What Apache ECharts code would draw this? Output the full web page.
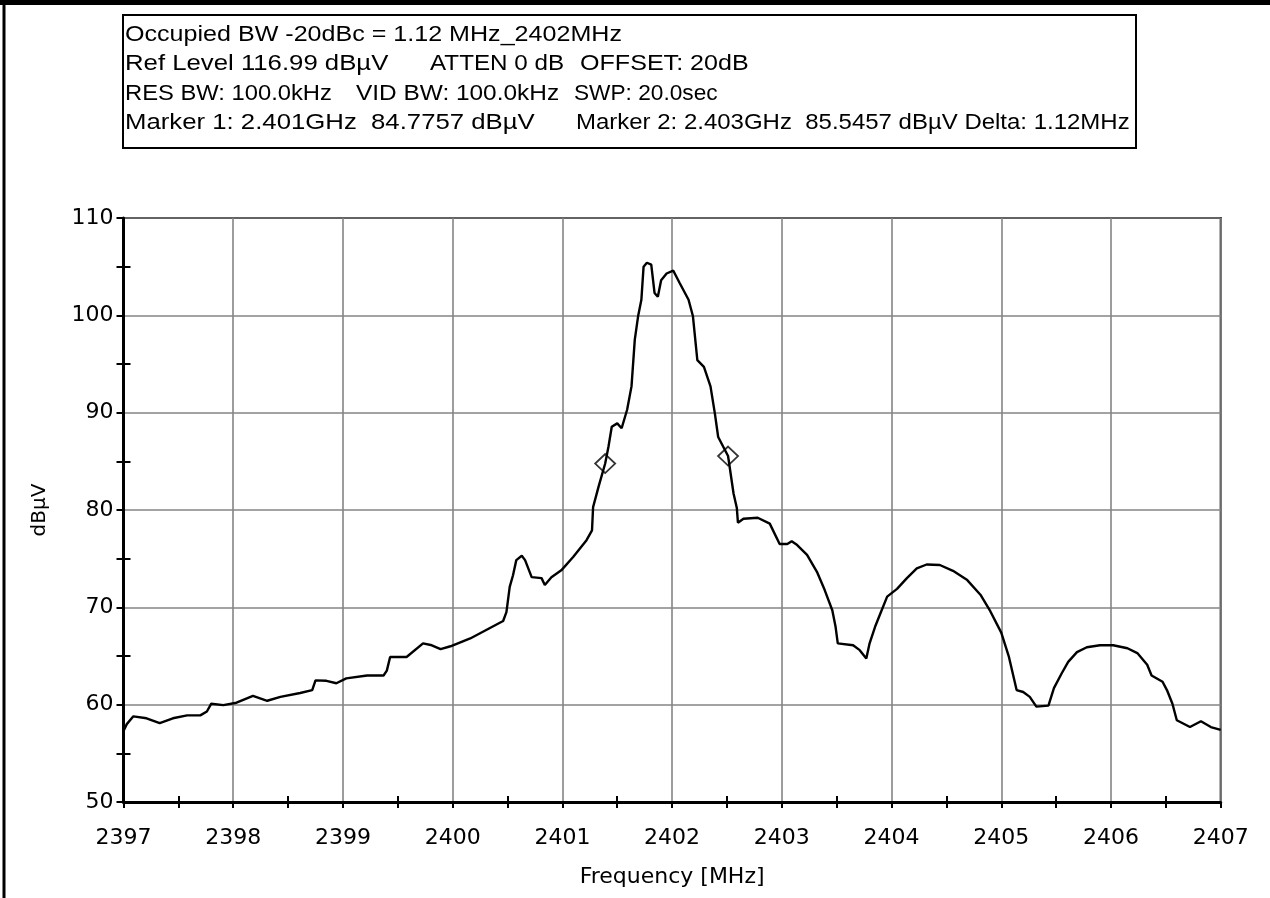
<!DOCTYPE html>
<html>
<head>
<meta charset="utf-8">
<style>
  html, body { margin: 0; padding: 0; background: #fff; }
  #chart { width: 1270px; height: 898px; }
</style>
<script src="https://cdn.jsdelivr.net/npm/echarts@6/dist/echarts.min.js"></script>
</head>
<body>
<div id="chart"></div>
<script>
// Spectrum sweep, 2397–2407 MHz
const freqMHz = [
  2397.00, 2397.03, 2397.09, 2397.21, 2397.33, 2397.45, 2397.58, 2397.70, 2397.76, 2397.80,
  2397.91, 2398.03, 2398.18, 2398.31, 2398.43, 2398.61, 2398.72, 2398.75, 2398.85, 2398.94,
  2399.03, 2399.22, 2399.37, 2399.40, 2399.43, 2399.58, 2399.73, 2399.81, 2399.89, 2399.98,
  2400.16, 2400.31, 2400.46, 2400.49, 2400.52, 2400.55, 2400.58, 2400.63, 2400.66, 2400.72,
  2400.81, 2400.84, 2400.90, 2400.99, 2401.10, 2401.22, 2401.27, 2401.28, 2401.33, 2401.39,
  2401.42, 2401.45, 2401.50, 2401.54, 2401.59, 2401.63, 2401.66, 2401.69, 2401.72, 2401.74,
  2401.77, 2401.81, 2401.84, 2401.87, 2401.90, 2401.95, 2402.01, 2402.07, 2402.15, 2402.19,
  2402.23, 2402.29, 2402.35, 2402.39, 2402.42, 2402.51, 2402.56, 2402.59, 2402.60, 2402.65,
  2402.78, 2402.89, 2402.98, 2403.05, 2403.09, 2403.14, 2403.23, 2403.32, 2403.39, 2403.46,
  2403.49, 2403.51, 2403.65, 2403.71, 2403.77, 2403.80, 2403.85, 2403.91, 2403.96, 2404.05,
  2404.14, 2404.23, 2404.32, 2404.44, 2404.56, 2404.69, 2404.81, 2404.90, 2405.00, 2405.07,
  2405.14, 2405.20, 2405.26, 2405.32, 2405.43, 2405.48, 2405.55, 2405.61, 2405.69, 2405.78,
  2405.90, 2406.02, 2406.15, 2406.24, 2406.33, 2406.37, 2406.47, 2406.51, 2406.56, 2406.60,
  2406.72, 2406.82, 2406.91, 2407.00
];
const levelDbuV = [
  57.3, 58.0, 58.8, 58.6, 58.1, 58.6, 58.9, 58.9, 59.3, 60.1,
  59.95, 60.2, 60.9, 60.4, 60.8, 61.2, 61.5, 62.5, 62.45, 62.2,
  62.7, 63.0, 63.0, 63.5, 64.9, 64.9, 66.3, 66.1, 65.7, 66.0,
  66.8, 67.7, 68.6, 69.5, 72.1, 73.3, 74.85, 75.3, 74.85, 73.1,
  73.0, 72.3, 73.1, 73.8, 75.2, 76.9, 77.9, 80.3, 82.4, 84.78,
  86.5, 88.55, 88.9, 88.4, 90.3, 92.7, 97.5, 99.9, 101.6, 105.0,
  105.4, 105.2, 102.3, 101.9, 103.6, 104.3, 104.6, 103.3, 101.6, 99.9,
  95.4, 94.7, 92.7, 89.9, 87.5, 85.55, 81.7, 80.2, 78.7, 79.1,
  79.2, 78.6, 76.5, 76.5, 76.8, 76.4, 75.4, 73.65, 71.8, 69.7,
  68.0, 66.3, 66.1, 65.6, 64.75, 66.3, 68.0, 69.7, 71.1, 71.9,
  73.0, 74.0, 74.4, 74.35, 73.75, 72.8, 71.3, 69.6, 67.4, 64.9,
  61.5, 61.3, 60.8, 59.8, 59.9, 61.7, 63.2, 64.4, 65.4, 65.9,
  66.1, 66.1, 65.8, 65.3, 64.1, 63.0, 62.35, 61.5, 60.1, 58.4,
  57.7, 58.3, 57.7, 57.4
];

// Marker readouts (MHz, dBµV); the delta between them is 1.12 MHz
const markerFreqMHz = [2401.39, 2402.51];
const markerLevel = [84.7757, 85.5457];

// Axis ranges and tick steps
const freqRange = [2397, 2407];
const levelRange = [50, 110];
const freqStep = 1;
const levelStep = 10;

// Instrument settings block: one list of [text, left x, horizontal stretch] per line
const headerRows = [
  [['Occupied BW -20dBc = 1.12 MHz_2402MHz', 125, 1.14]],
  [['Ref Level 116.99 dBµV', 125, 1.17], ['ATTEN 0 dB', 430, 1.1], ['OFFSET: 20dB', 580, 1.14]],
  [['RES BW: 100.0kHz', 125, 1.08], ['VID BW: 100.0kHz', 356, 1.11], ['SWP: 20.0sec', 574, 1.03]],
  [['Marker 1: 2.401GHz  84.7757 dBµV', 125, 1.17], ['Marker 2: 2.403GHz  85.5457 dBµV Delta: 1.12MHz', 576, 1.09]]
];

const AXIS_FONT = 'DejaVu Sans';
const HEAD_FONT = 'Liberation Sans';
const trace = freqMHz.map((f, i) => [f, levelDbuV[i]]);
const markers = markerFreqMHz.map((f, i) => [f, markerLevel[i]]);

const headerTexts = [];
headerRows.forEach((row, r) => {
  row.forEach(([txt, x, sx]) => {
    headerTexts.push({
      type: 'text', x: x, y: 34.5 + r * 29.5, z: 101, scaleX: sx, scaleY: 1,
      style: { text: txt, fill: '#000', font: '22px "' + HEAD_FONT + '"', textVerticalAlign: 'middle' }
    });
  });
});

const chart = echarts.init(document.getElementById('chart'), null, { renderer: 'canvas' });

const gridBox = { left: 123.5, top: 218, right: 49.3, bottom: 96 };

chart.setOption({
  backgroundColor: '#fff',
  animation: false,
  grid: Object.assign({ show: true, borderColor: '#000', borderWidth: 2, backgroundColor: 'transparent' }, gridBox),
  xAxis: [{
    type: 'value', min: freqRange[0], max: freqRange[1], interval: freqStep,
    name: 'Frequency [MHz]', nameLocation: 'middle', nameGap: 64,
    nameTextStyle: { color: '#000', fontFamily: AXIS_FONT, fontSize: 22 },
    axisLine: { show: true, onZero: false, lineStyle: { color: '#000', width: 3 } },
    axisTick: { show: true, length: 6, lineStyle: { color: '#000', width: 2 } },
    minorTick: { show: true, splitNumber: 2, length: 6, lineStyle: { color: '#000', width: 2 } },
    axisLabel: { color: '#000', fontFamily: AXIS_FONT, fontSize: 22, margin: 25, formatter: v => String(v) },
    splitLine: { show: true, lineStyle: { color: '#858585', width: 1.6 } }
  }, {
    type: 'value', min: freqRange[0], max: freqRange[1], interval: freqStep, position: 'bottom',
    axisLine: { show: false }, axisLabel: { show: false }, splitLine: { show: false },
    axisTick: { show: false, inside: true },
    minorTick: { show: true, splitNumber: 2, length: 6, lineStyle: { color: '#000', width: 2 } }
  }],
  yAxis: [{
    type: 'value', min: levelRange[0], max: levelRange[1], interval: levelStep,
    name: 'dBµV', nameLocation: 'middle', nameGap: 74, nameRotate: 90,
    nameTextStyle: { color: '#000', fontFamily: AXIS_FONT, fontSize: 20 },
    axisLine: { show: true, onZero: false, lineStyle: { color: '#000', width: 3 } },
    axisTick: { show: true, length: 7, lineStyle: { color: '#000', width: 2 } },
    minorTick: { show: true, splitNumber: 2, length: 7, lineStyle: { color: '#000', width: 2 } },
    axisLabel: { color: '#000', fontFamily: AXIS_FONT, fontSize: 22, margin: 10 },
    splitLine: { show: true, lineStyle: { color: '#858585', width: 1.6 } }
  }, {
    type: 'value', min: levelRange[0], max: levelRange[1], interval: levelStep, position: 'left',
    axisLine: { show: false }, axisLabel: { show: false }, splitLine: { show: false },
    axisTick: { show: false, inside: true },
    minorTick: { show: true, splitNumber: 2, length: 7, lineStyle: { color: '#000', width: 2 } }
  }],
  series: [{
    type: 'line', data: trace, xAxisIndex: 0, yAxisIndex: 0,
    showSymbol: false, symbol: 'none', smooth: false,
    lineStyle: { color: '#000', width: 2.4 }, z: 5
  }, {
    type: 'scatter', data: markers, xAxisIndex: 0, yAxisIndex: 0,
    symbol: 'diamond', symbolSize: [20, 19],
    itemStyle: { color: 'rgba(0,0,0,0)', borderColor: '#000', borderWidth: 1.8 }, z: 6
  }],
  graphic: [
    // page frame
    { type: 'line', shape: { x1: 0, y1: 2.5, x2: 1270, y2: 2.5 }, style: { stroke: '#000', lineWidth: 5 }, z: 100 },
    { type: 'line', shape: { x1: 4, y1: 0, x2: 4, y2: 898 }, style: { stroke: '#000', lineWidth: 3 }, z: 100 },
    // settings box
    { type: 'rect', shape: { x: 123, y: 15, width: 1013, height: 133 }, style: { fill: '#fff', stroke: '#000', lineWidth: 2 }, z: 100 }
  ].concat(headerTexts)
});
</script>
</body>
</html>
